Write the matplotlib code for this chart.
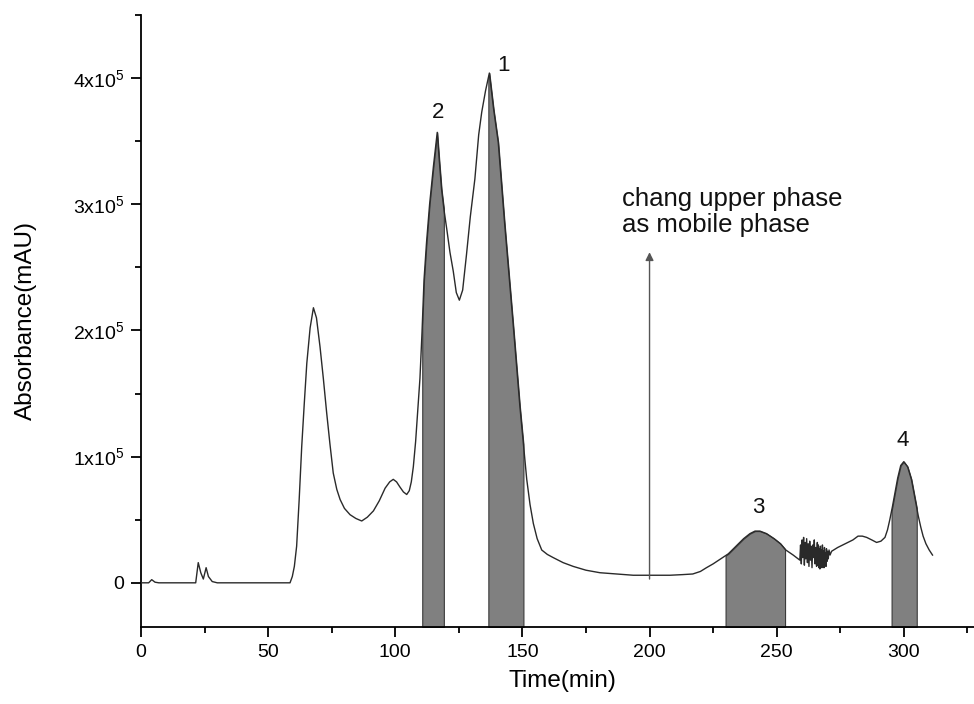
import numpy as np
import matplotlib
matplotlib.use("Agg")
import matplotlib.pyplot as plt
from matplotlib.ticker import FixedLocator, FixedFormatter, MultipleLocator

plt.rcParams['font.family'] = ['Liberation Sans', 'DejaVu Sans']
plt.rcParams['mathtext.fontset'] = 'custom'
plt.rcParams['mathtext.rm'] = 'Liberation Sans'

# ---- data (time in min, absorbance in units of 1e5 mAU) ----
time_min = [0, 3, 4.2, 5.5, 7, 21.5, 22.5, 23.5, 24.5, 25.6, 26.5, 28, 30, 58.6,
            59.5, 60.3, 61.2, 62.2, 63.2, 64.2, 65.2, 66.5, 67.8, 69, 70.4, 71.7, 73, 74.3, 75.6,
            77, 78.3, 80, 82.2, 84.5, 86.8, 89, 91.4, 93.7, 96, 97.8, 99.2, 100.5, 101.8, 103.2,
            104.5, 105.5, 106.3, 107.1, 108, 108.9, 109.7, 110.5, 111.3, 112.3, 113.5, 115, 116.5,
            117.3, 118.2, 119.2, 120.2, 121.5, 122.8, 124, 125.2, 126.5, 128, 129.5,
            131.3, 132.8, 134, 135.5, 137, 138.7, 140.5, 143, 146.4, 149, 150.5, 151.7, 153,
            154.3, 155.8, 157.6, 159.8, 162.1, 166, 170, 175, 180.5, 187, 193.6, 200, 208, 213, 217,
            220, 222.4, 225, 228, 231, 234, 237, 239.5, 241.5, 243.4, 246, 249, 251.5, 253.6,
            256.5, 258.5,
            259.1, 259.4, 259.7, 260.0, 260.3, 260.6, 260.9, 261.2, 261.5, 261.8, 262.1,
            262.4, 262.7, 263.0, 263.3, 263.6, 263.9, 264.2, 264.5, 264.8, 265.1, 265.4,
            265.7, 266.0, 266.2, 266.4, 266.6, 266.8, 267.0, 267.2, 267.4, 267.6, 267.8,
            268.0, 268.2, 268.4, 268.6, 268.8, 269.0, 269.2, 269.4, 269.6, 269.8, 270.0,
            270.3, 270.6, 271.0, 271.6, 274, 276, 278, 280, 282, 283.7, 285.4, 287.4,
            289.3, 291, 292.6, 293.6, 294.5, 295.5, 296.5, 297.6, 298.8, 300, 301.5, 303,
            304.4, 305.7, 306.7, 307.6, 308.7, 310, 311.3]
absorb_e5 = [0, 0, 0.025, 0.005, 0, 0, 0.16, 0.08, 0.03, 0.12, 0.05, 0.01, 0, 0,
             0.05, 0.13, 0.29, 0.66, 1.08, 1.42, 1.74, 2.02, 2.18, 2.1, 1.87, 1.62, 1.35, 1.1, 0.87,
             0.74, 0.66, 0.59, 0.54, 0.51, 0.49, 0.52, 0.57, 0.65, 0.75, 0.80, 0.82, 0.80, 0.76, 0.72,
             0.70, 0.73, 0.80, 0.92, 1.12, 1.38, 1.62, 1.98, 2.4, 2.7, 3.0, 3.3, 3.57,
             3.35, 3.12, 2.95, 2.81, 2.62, 2.47, 2.3, 2.24, 2.32, 2.6, 2.9,
             3.2, 3.55, 3.73, 3.9, 4.04, 3.75, 3.49, 2.85, 2.04, 1.4, 1.08, 0.82, 0.62,
             0.47, 0.35, 0.26, 0.225, 0.2, 0.16, 0.13, 0.1, 0.08, 0.07, 0.06, 0.06, 0.06, 0.065, 0.07,
             0.09, 0.12, 0.15, 0.19, 0.23, 0.29, 0.35, 0.39, 0.41, 0.41, 0.39, 0.35, 0.31, 0.26,
             0.22, 0.19,
             0.18, 0.3, 0.15, 0.34, 0.2, 0.36, 0.14, 0.32, 0.19, 0.35, 0.16,
             0.31, 0.13, 0.33, 0.18, 0.29, 0.12, 0.3, 0.2, 0.34, 0.15, 0.28,
             0.13, 0.32, 0.14, 0.3, 0.12, 0.27, 0.11, 0.29, 0.13, 0.26, 0.12,
             0.3, 0.14, 0.25, 0.12, 0.28, 0.15, 0.24, 0.13, 0.27, 0.17, 0.25,
             0.19, 0.26, 0.22, 0.25, 0.28, 0.3, 0.32, 0.34, 0.37, 0.37, 0.36, 0.34,
             0.32, 0.33, 0.36, 0.42, 0.5, 0.6, 0.71, 0.83, 0.93, 0.96, 0.92, 0.82,
             0.67, 0.53, 0.44, 0.37, 0.31, 0.26, 0.22]

fractions = [(110.6, 119.1), (136.6, 150.4), (229.9, 253.3), (295.2, 305.1)]
peak_labels = ['2', '1', '3', '4']
peak_label_pos = [(116.8, 3.73), (142.4, 4.10), (242.6, 0.60), (299.6, 1.13)]

yticks_e5 = [0, 1, 2, 3, 4]
ytick_labels = ['0', r'$\mathregular{1x10^5}$', r'$\mathregular{2x10^5}$',
                r'$\mathregular{3x10^5}$', r'$\mathregular{4x10^5}$']
xticks = [0, 50, 100, 150, 200, 250, 300]

annotation_text = 'chang upper phase\nas mobile phase'
arrow_x = 200
arrow_from_e5 = 0.03
arrow_to_e5 = 2.62

SCALE = 1e5
t = np.array(time_min)
y = np.array(absorb_e5) * SCALE

fig = plt.figure(figsize=(9.74, 7.04), dpi=100)
ax = fig.add_axes([0.1448, 0.1094, 0.8562, 0.8693])

ymin, ymax = -0.35 * SCALE, 4.5 * SCALE
ax.set_xlim(0, 328)
ax.set_ylim(ymin, ymax)

# shaded fractions
for (a, b) in fractions:
    tt = np.concatenate([[a], t[(t > a) & (t < b)], [b]])
    yy = np.interp(tt, t, y)
    ax.fill_between(tt, ymin, yy, facecolor='#808080', edgecolor='#3a3a3a', linewidth=0.8, zorder=2)

ax.plot(t, y, color='#2a2a2a', linewidth=1.0, zorder=3)

for lab, (px, py) in zip(peak_labels, peak_label_pos):
    ax.text(px, py * SCALE, lab, ha='center', va='center', fontsize=16, color='#111111')

ax.annotate('', xy=(arrow_x, arrow_to_e5 * SCALE), xytext=(arrow_x, arrow_from_e5 * SCALE),
            arrowprops=dict(arrowstyle='-|>', color='#555555', lw=1.0, mutation_scale=12,
                            shrinkA=0, shrinkB=0))
ax.text(189.0, 3.14 * SCALE, annotation_text, ha='left', va='top', fontsize=18.5,
        linespacing=1.15, color='#111111')

for s in ['top', 'right']:
    ax.spines[s].set_visible(False)
for s in ['left', 'bottom']:
    ax.spines[s].set_linewidth(1.3)

ax.xaxis.set_major_locator(FixedLocator(xticks))
ax.xaxis.set_minor_locator(MultipleLocator(25))
ax.yaxis.set_major_locator(FixedLocator([v * SCALE for v in yticks_e5]))
ax.yaxis.set_major_formatter(FixedFormatter(ytick_labels))
ax.yaxis.set_minor_locator(MultipleLocator(0.5 * SCALE))
ax.tick_params(which='major', direction='out', length=7, width=1.3, labelsize=14, pad=5)
ax.tick_params(which='minor', direction='out', length=4.3, width=1.3)

ax.set_xlabel('Time(min)', fontsize=17.5)
ax.set_ylabel('Absorbance(mAU)', fontsize=17.5)
ax.xaxis.set_label_coords(0.505, -0.07)
ax.yaxis.set_label_coords(-0.125, 0.5)

fig.savefig('out.png', dpi=100)
